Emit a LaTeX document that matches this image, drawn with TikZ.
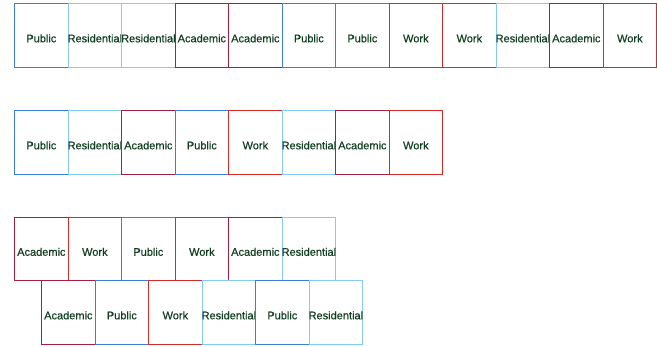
\documentclass[tikz,border=0pt]{standalone}
\usepackage{fontspec}
\setmainfont{Liberation Sans}
\newfontfamily\lblfont{Liberation Sans}[FakeBold=0.5]
\definecolor{cpub}{HTML}{3B7EDB}
\definecolor{cres}{HTML}{84CBF2}
\definecolor{caca}{HTML}{A3203E}
\definecolor{cwork}{HTML}{D42A2A}
\definecolor{ctxt}{HTML}{123F22}
\tikzset{
  cell/.style={draw, fill=white, line width=1.2pt, minimum width=53.5pt, minimum height=63.5pt, inner sep=0pt, anchor=north west},
  Public/.style={cell, draw=cpub},
  Residential/.style={cell, draw=cres},
  Academic/.style={cell, draw=caca},
  Work/.style={cell, draw=cwork},
  lbl/.style={text=ctxt, font=\lblfont\fontsize{11}{13}\selectfont, inner sep=0pt}
}
\newcommand{\putrow}[4]{%
  \foreach \t [count=\i from 0] in {#4} {
    \node[\t] (#1-\i) at ({#2+53.5*\i},#3) {};
    \node[lbl] (#1-\i-t) at ([yshift=-3pt]#1-\i.center) {\t};
  }%
}
\begin{document}
\begin{tikzpicture}[x=1pt,y=-1pt]
\useasboundingbox (0,0) rectangle (657,346);
\putrow{a}{14}{3}{Public,Residential,Residential,Academic,Academic,Public,Public,Work,Work,Residential,Academic,Work}
\putrow{b}{14}{110}{Public,Residential,Academic,Public,Work,Residential,Academic,Work}
\putrow{c}{14}{216.5}{Academic,Work,Public,Work,Academic,Residential}
\putrow{d}{41}{280}{Academic,Public,Work,Residential,Public,Residential}
\end{tikzpicture}
\end{document}
